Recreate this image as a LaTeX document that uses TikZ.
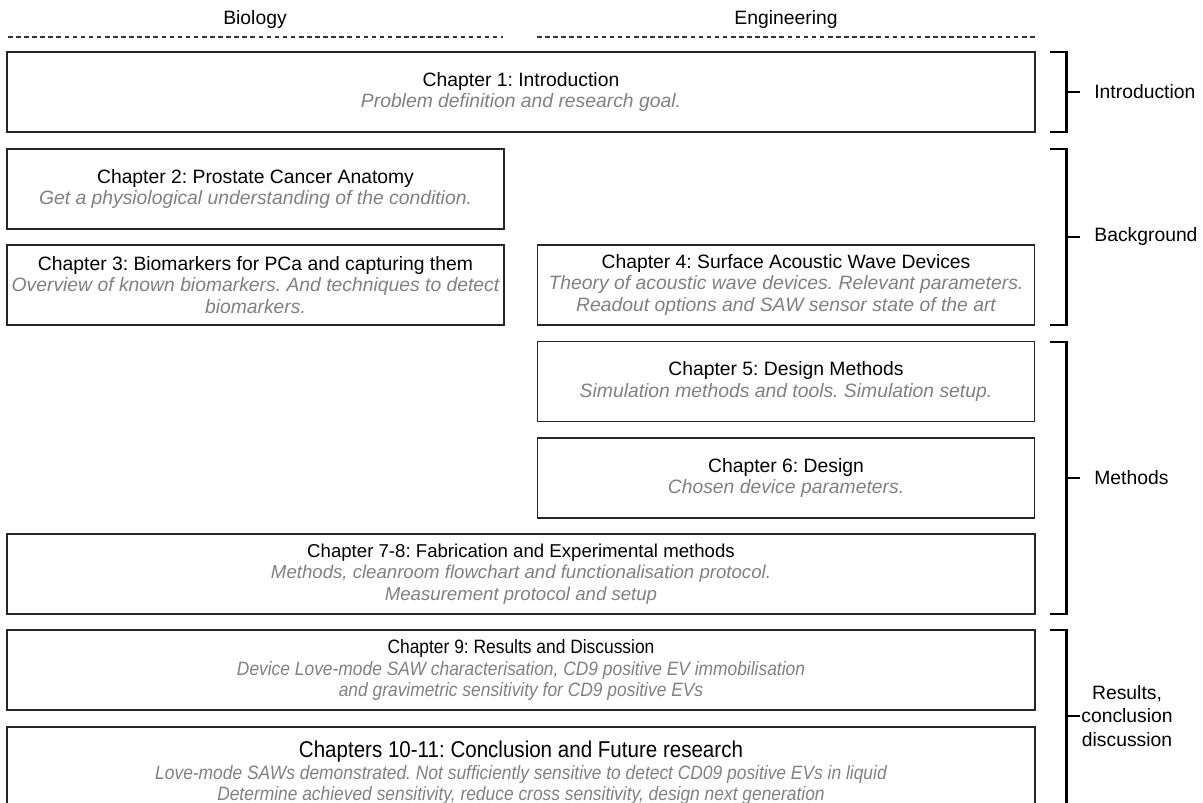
\documentclass[tikz,border=0pt]{standalone}
\usepackage{fontspec}
\setmainfont{Liberation Sans}
\newfontfamily\narrowsans[FakeStretch=0.9]{Liberation Sans}
\usetikzlibrary{positioning}
\tikzset{
  % box for one chapter: title and grey summary
  chapter/.style={draw=black!85, line width=0.8pt, align=center, inner sep=0pt,
    minimum height=1.6cm, font=\fontsize{11}{12.2}\selectfont},
  wide/.style={minimum width=20.56cm},
  half/.style={minimum width=9.94cm},
  narrow/.style={font=\narrowsans\fontsize{11}{12.2}\selectfont},
  % brackets for the parts on the right
  part bracket/.style={draw=black, line width=1.7pt},
  part label/.style={align=center, inner sep=0pt, font=\fontsize{11}{13.4}\selectfont},
  column rule/.style={draw=black!80, line width=0.6pt, dash pattern=on 2.6pt off 2pt},
}
\newcommand{\chapsum}[1]{{\color{black!50}\itshape #1}}

\begin{document}
\frenchspacing
\begin{tikzpicture}[x=0.02cm,y=-0.02cm]
\useasboundingbox (0,0) rectangle (1203,803);
\clip (0,0) rectangle (1203,803);
% column headers
\node[part label] (bio) at (255,20) {Biology};
\node[part label] (eng) at (786,20) {Engineering};
\coordinate (bioL) at (8,37);
\coordinate (bioR) at (503,37);
\coordinate (engL) at (537,37);
\coordinate (engR) at (1035,37);
\draw[column rule] (bioL) -- (bioR);
\draw[column rule] (engL) -- (engR);
% chapters
\node[chapter,wide] (ch1) at (521,92) {Chapter 1: Introduction\\\chapsum{Problem definition and research goal.}};
\node[chapter,half] (ch2) at (255.5,189) {Chapter 2: Prostate Cancer Anatomy\\\chapsum{Get a physiological understanding of the condition.}};
\node[chapter,half] (ch3) at (255.5,285) {Chapter 3: Biomarkers for PCa and capturing them\\\chapsum{Overview of known biomarkers. And techniques to detect}\\\chapsum{biomarkers.}};
\node[chapter,half] (ch4) at (786,285) {Chapter 4: Surface Acoustic Wave Devices\\\chapsum{Theory of acoustic wave devices. Relevant parameters.}\\\chapsum{Readout options and SAW sensor state of the art}};
\node[chapter,half] (ch5) at (786,381.5) {Chapter 5: Design Methods\\\chapsum{Simulation methods and tools. Simulation setup.}};
\node[chapter,half] (ch6) at (786,478) {Chapter 6: Design\\\chapsum{Chosen device parameters.}};
\node[chapter,wide,font=\fontsize{10.6}{12.2}\selectfont] (ch7) at (521,574) {Chapter 7-8: Fabrication and Experimental methods\\\chapsum{Methods, cleanroom flowchart and functionalisation protocol.}\\\chapsum{Measurement protocol and setup}};
\node[chapter,wide,narrow] (ch9) at (521,670) {Chapter 9: Results and Discussion\\\chapsum{Device Love-mode SAW characterisation, CD9 positive EV immobilisation}\\\chapsum{and gravimetric sensitivity for CD9 positive EVs}};
\node[chapter,wide,narrow,minimum height=1.84cm] (ch10) at (521,773) {{\fontsize{13}{12.2}\selectfont Chapters 10-11: Conclusion and Future research}\\\chapsum{Love-mode SAWs demonstrated. Not sufficiently sensitive to detect CD09 positive EVs in liquid}\\\chapsum{Determine achieved sensitivity, reduce cross sensitivity, design next generation}};
% parts
\draw[part bracket] (1050,52) -- (1066,52) -- (1066,132) -- (1050,132);
\draw[part bracket] (1066,92) -- (1080,92);
\node[part label,anchor=west] (intro) at (1094,92) {Introduction};
\draw[part bracket] (1050,149) -- (1066,149) -- (1066,325) -- (1050,325);
\draw[part bracket] (1066,237) -- (1080,237);
\node[part label,anchor=west] (backgr) at (1094,237) {Background};
\draw[part bracket] (1050,342) -- (1066,342) -- (1066,614) -- (1050,614);
\draw[part bracket] (1066,478) -- (1080,478);
\node[part label,anchor=west] (meth) at (1094,478) {Methods};
\draw[part bracket] (1050,630) -- (1066,630) -- (1066,810);
\draw[part bracket] (1066,716) -- (1080,716);
\node[part label,anchor=west] (res) at (1081,716) {Results,\\conclusion\\discussion};
\end{tikzpicture}
\end{document}
